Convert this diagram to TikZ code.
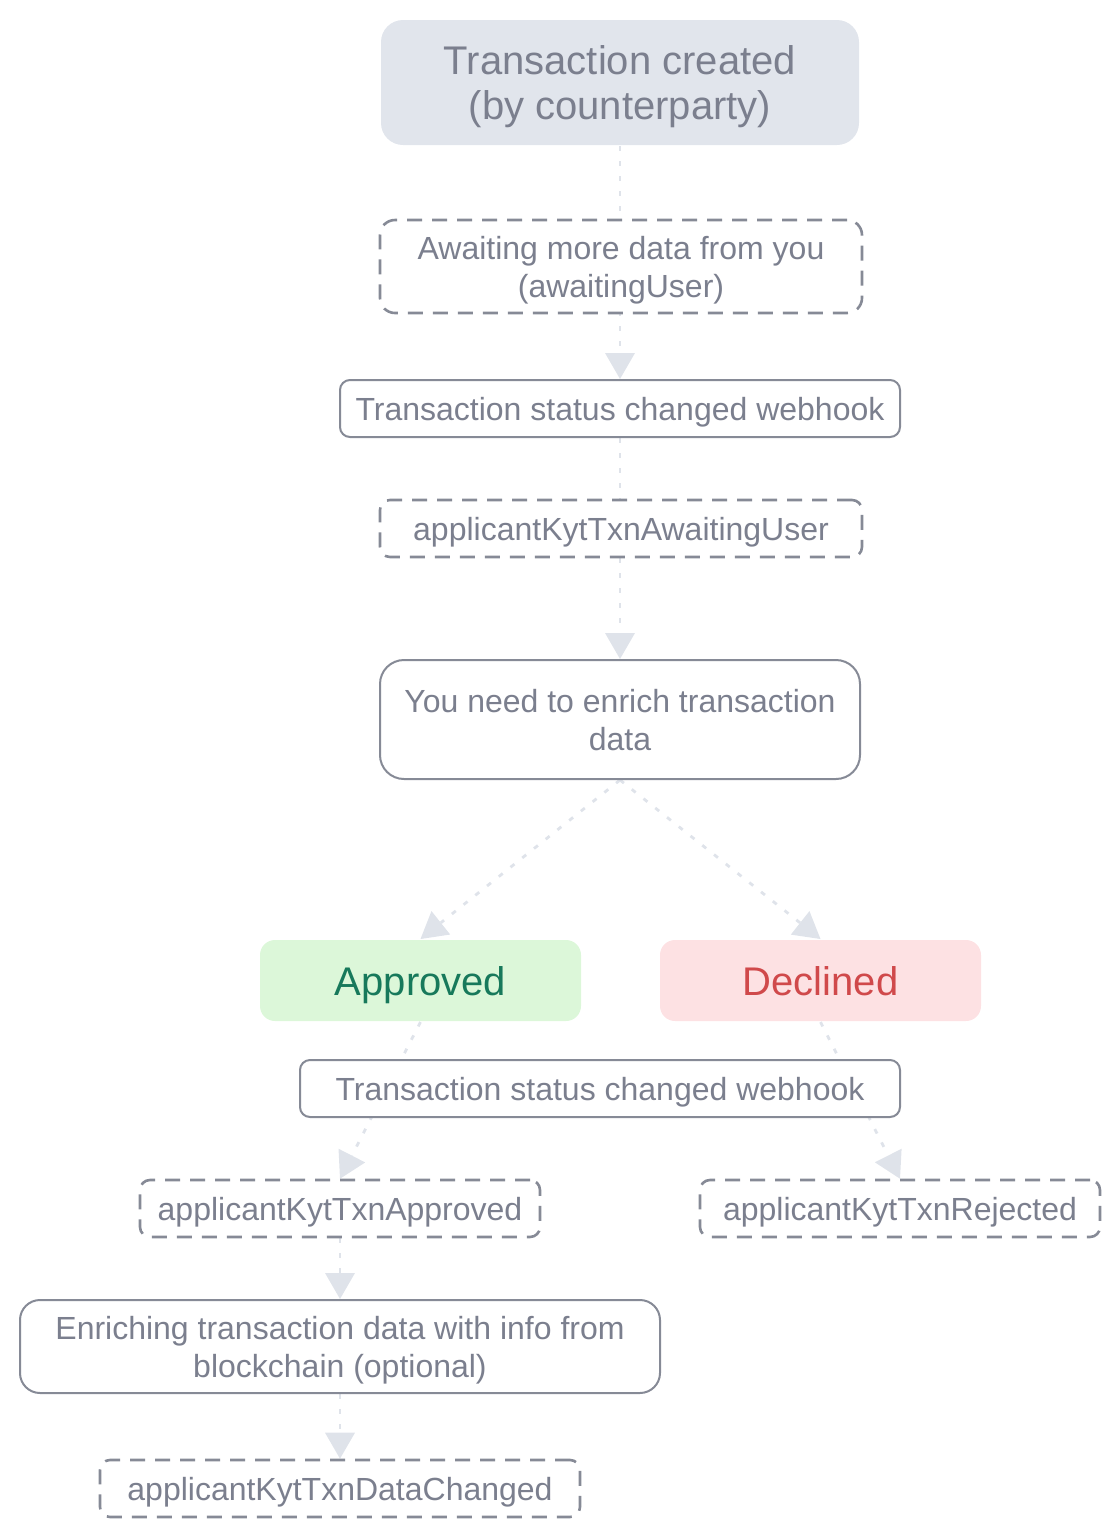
\documentclass[tikz,border=0pt]{standalone}
\usepackage{fontspec}
\setmainfont{Liberation Sans}
\usetikzlibrary{arrows.meta}
\usetikzlibrary{backgrounds}

\definecolor{txtgray}{HTML}{7B7F8E}
\definecolor{boxgray}{HTML}{868A96}
\definecolor{flowgray}{HTML}{DFE3EA}
\definecolor{startfill}{HTML}{E1E5EC}
\definecolor{okfill}{HTML}{DCF7D9}
\definecolor{oktxt}{HTML}{17795B}
\definecolor{nofill}{HTML}{FDE1E3}
\definecolor{notxt}{HTML}{D0494B}

\tikzset{
  stepbox/.style={draw=boxgray, line width=1pt, fill=white, text=txtgray, align=center,
    inner sep=0pt, text depth=0pt, rounded corners=5pt, minimum height=28.5pt,
    font=\fontsize{16}{19}\selectfont},
  eventbox/.style={stepbox, line width=1.3pt, dash pattern=on 7.5pt off 5pt},
  statebox/.style={stepbox, draw=none, rounded corners=7.5pt, minimum width=160.5pt,
    minimum height=40.5pt, font=\fontsize{20}{22.5}\selectfont},
  flow/.style={draw=flowgray, line width=1.4pt, dash pattern=on 2.5pt off 5pt,
    -{Triangle[width=15pt,length=13pt,fill=flowgray,line width=0pt]}}
}

\begin{document}
\begin{tikzpicture}[x=0.5pt,y=-0.5pt]
\useasboundingbox (0,0) rectangle (1120,1538);

\node[statebox, fill=startfill, rounded corners=11pt, minimum width=239pt, minimum height=62.5pt] (created) at (620,82.5) {Transaction created\\(by counterparty)};
\node[eventbox, rounded corners=7.5pt, minimum width=241pt, minimum height=46.5pt] (awaiting) at (621,266.5) {Awaiting more data from you\\(awaitingUser)};
\node[stepbox, minimum width=280pt] (hookA) at (620,408.5) {Transaction status changed webhook};
\node[eventbox, minimum width=241pt] (kytwait) at (621,528.5) {applicantKytTxnAwaitingUser};
\node[stepbox, rounded corners=12pt, minimum width=240pt, minimum height=59.5pt] (enrich) at (620,719.5) {You need to enrich transaction\\data};

\node[statebox, fill=okfill, text=oktxt] (approved) at (420.5,980.5) {Approved};
\node[statebox, fill=nofill, text=notxt] (declined) at (820.5,980.5) {Declined};

\node[stepbox, minimum width=300pt] (hookB) at (600,1088.5) {Transaction status changed webhook};
\node[eventbox, minimum width=200pt] (kytok) at (340,1208.5) {applicantKytTxnApproved};
\node[eventbox, minimum width=200pt] (kytno) at (900,1208.5) {applicantKytTxnRejected};
\node[stepbox, rounded corners=10pt, minimum width=320pt, minimum height=46.5pt] (chain) at (340,1346.5) {Enriching transaction data with info from\\blockchain (optional)};
\node[eventbox, minimum width=240pt] (datachg) at (340,1488.5) {applicantKytTxnDataChanged};

% connectors run behind the boxes
\begin{scope}[on background layer]
\draw[flow] (created.south) -- (hookA.north);
\draw[flow] (hookA.south) -- (enrich.north);
\draw[flow] (enrich.south) -- (approved.north);
\draw[flow] (enrich.south) -- (declined.north);
\draw[flow] (approved.south) -- (kytok.north);
\draw[flow] (declined.south) -- (kytno.north);
\draw[flow] (kytok.south) -- (chain.north);
\draw[flow] (chain.south) -- (datachg.north);
\end{scope}

\end{tikzpicture}
\end{document}
